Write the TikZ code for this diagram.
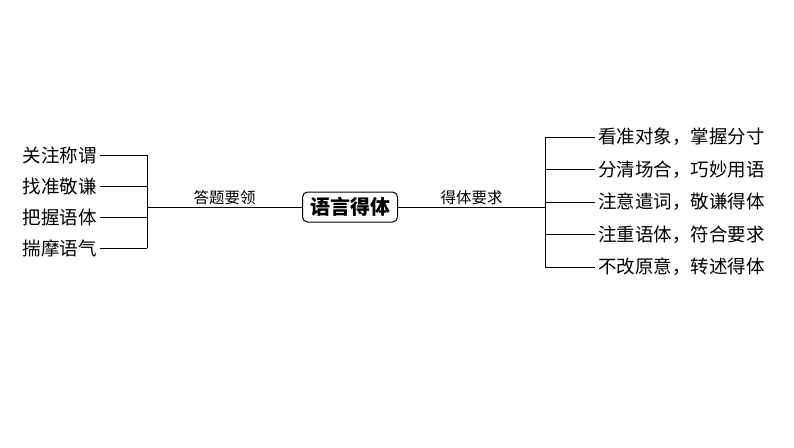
\documentclass[tikz,border=0pt]{standalone}
\usepackage{fontspec}
\newfontfamily\cjk{Noto Sans CJK SC}
\usetikzlibrary{positioning}
\tikzset{
  leaf/.style={font=\cjk\fontsize{18.5}{18.5}\selectfont, inner sep=1pt},
  tag/.style={font=\cjk\fontsize{15.5}{15.5}\selectfont, inner sep=2pt, above},
  hub/.style={draw, rounded corners=5pt, line width=1pt, font=\cjk\bfseries\fontsize{20}{20}\selectfont, minimum width=95pt, minimum height=30pt, inner sep=2pt}
}
\begin{document}
\begin{tikzpicture}[x=1pt,y=-1pt]
  \useasboundingbox (0,0) rectangle (794,447);
  \node[hub] (main) at (350,207) {语言得体};
  \coordinate (lj) at (147,207);
  \coordinate (rj) at (545,207);
  \draw (main.west) -- node[tag] {答题要领} (lj);
  \draw (main.east) -- node[tag] {得体要求} (rj);
  % left branches
  \draw (147,155) -- (147,248);
  \foreach \t [count=\i] in {关注称谓,找准敬谦,把握语体,揣摩语气} {
    \node[leaf, anchor=east] (l\i) at (98,124+31*\i) {\t};
    \draw (l\i.east) ++(2,0) -- (147,124+31*\i);
  }
  % right branches
  \draw (545,137) -- (545,267);
  \foreach \t [count=\i] in {看准对象，掌握分寸,分清场合，巧妙用语,注意遣词，敬谦得体,注重语体，符合要求,不改原意，转述得体} {
    \node[leaf, anchor=west] (r\i) at (597,104.5+32.5*\i) {\t};
    \draw (545,104.5+32.5*\i) -- ([xshift=-2pt]r\i.west);
  }
\end{tikzpicture}
\end{document}
